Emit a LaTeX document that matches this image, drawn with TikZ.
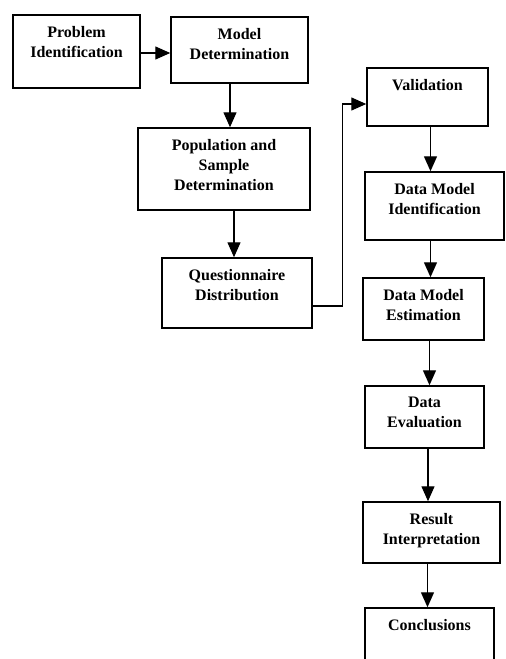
\documentclass[tikz,border=0pt]{standalone}
\usepackage{fontspec}
\setmainfont{Liberation Serif}
\usepackage{tikz}
\usetikzlibrary{arrows.meta}

\begin{document}
\begin{tikzpicture}[
		x=1pt,y=-1pt,
		box/.style={draw,line width=1.5pt,inner sep=0pt},
		lbl/.style={anchor=north,yshift=-12pt,inner sep=0pt,align=center,
			font=\fontsize{16}{20}\selectfont\bfseries},
		arrow/.style={-{Triangle[length=15pt,width=13pt]},line width=1.4pt}
		]
		\useasboundingbox (0,0) rectangle (506,659);
		\clip (0,0) rectangle (506,659);
		% manual positions, left column
		\node[box,minimum width=127pt,minimum height=73pt,
			label={[lbl]north:Problem\\Identification}] (prob) at (76.5,51.5) {};
		\node[box,minimum width=137pt,minimum height=66pt,
			label={[lbl]north:Model\\Determination}] (model) at (239.5,50) {};
		\node[box,minimum width=172pt,minimum height=82pt,
			label={[lbl]north:Population and\\Sample\\Determination}] (pop) at (224,169) {};
		\node[box,minimum width=150pt,minimum height=70pt,
			label={[lbl]north:Questionnaire\\Distribution}] (quest) at (237,293) {};
		
		% right column
		\node[box,minimum width=121pt,minimum height=58pt,
			label={[lbl]north:Validation}] (valid) at (427.5,97) {};
		\node[box,minimum width=139pt,minimum height=68pt,
			label={[lbl]north:Data Model\\Identification}] (dmi) at (434.5,206) {};
		\node[box,minimum width=121pt,minimum height=62pt,
			label={[lbl]north:Data Model\\Estimation}] (dme) at (423.5,309) {};
		\node[box,minimum width=119pt,minimum height=62pt,
			label={[lbl]north:Data\\Evaluation}] (deval) at (424.5,417) {};
		\node[box,minimum width=137pt,minimum height=61pt,
			label={[lbl]north:Result\\Interpretation}] (result) at (431.5,532.5) {};
		\node[box,minimum width=129pt,minimum height=72pt,
			label={[lbl]north:Conclusions}] (concl) at (429.5,644) {};
		
		% arrows
		\draw[arrow] ([yshift=-1.5pt]prob.east) -- ([yshift=-1.5pt]prob.east -| model.west);
		\draw[arrow] ([xshift=-9.5pt]model.south) -- ([xshift=-9.5pt]model.south |- pop.north);
		\draw[arrow] ([xshift=10pt]pop.south) -- ([xshift=10pt]pop.south |- quest.north);
		\draw[line width=1.4pt,-{Triangle[length=15pt,width=13pt]}]
			([yshift=-13pt]quest.east) -- ++(30,0) |- ([yshift=-7pt]valid.west);
		\draw[arrow] ([xshift=3pt]valid.south) -- ([xshift=3pt]valid.south |- dmi.north);
		\draw[arrow] ([xshift=-4pt]dmi.south) -- ([xshift=-4pt]dmi.south |- dme.north);
		\draw[arrow] ([xshift=6pt]dme.south) -- ([xshift=6pt]dme.south |- deval.north);
		\draw[arrow] ([xshift=3.5pt]deval.south) -- ([xshift=3.5pt]deval.south |- result.north);
		\draw[arrow] ([xshift=-4pt]result.south) -- ([xshift=-4pt]result.south |- concl.north);
	\end{tikzpicture}
\end{document}
